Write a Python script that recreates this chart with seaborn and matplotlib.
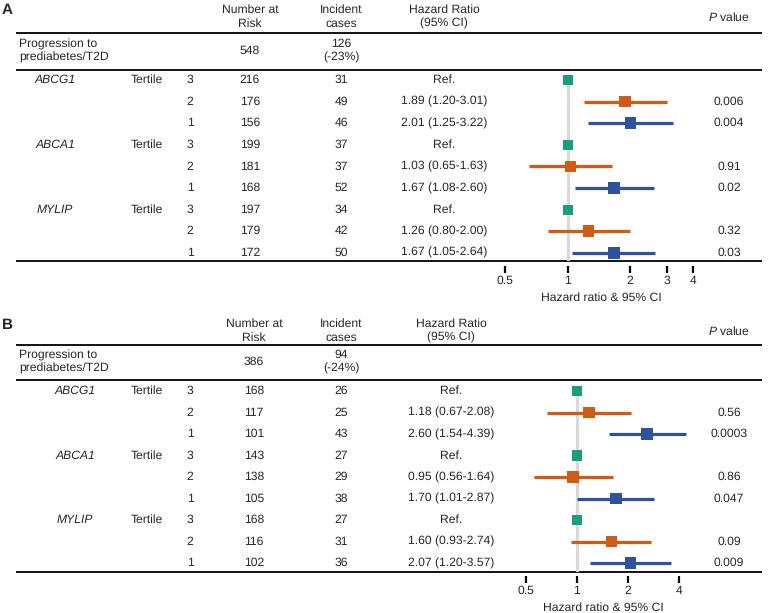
import numpy as np
import pandas as pd
import matplotlib
matplotlib.use("Agg")
import matplotlib.pyplot as plt
import seaborn as sns

# ---------------- data ----------------
genes = ["ABCG1", "ABCA1", "MYLIP"]
tertiles = [3, 2, 1, 3, 2, 1, 3, 2, 1]

a_total_risk = "548"
a_total_cases = "126\n(-23%)"
a_risk = [216, 176, 156, 199, 181, 168, 197, 179, 172]
a_cases = [31, 49, 46, 37, 37, 52, 34, 42, 50]
a_hr = [1.0, 1.89, 2.01, 1.0, 1.03, 1.67, 1.0, 1.26, 1.67]
a_lo = [np.nan, 1.20, 1.25, np.nan, 0.65, 1.08, np.nan, 0.80, 1.05]
a_hi = [np.nan, 3.01, 3.22, np.nan, 1.63, 2.60, np.nan, 2.00, 2.64]
a_p = ["", "0.006", "0.004", "", "0.91", "0.02", "", "0.32", "0.03"]
a_ticks = [0.5, 1, 2, 3, 4]
a_ticklabels = ["0.5", "1", "2", "3", "4"]

b_total_risk = "386"
b_total_cases = "94\n(-24%)"
b_risk = [168, 117, 101, 143, 138, 105, 168, 116, 102]
b_cases = [26, 25, 43, 27, 29, 38, 27, 31, 36]
b_hr = [1.0, 1.18, 2.60, 1.0, 0.95, 1.70, 1.0, 1.60, 2.07]
b_lo = [np.nan, 0.67, 1.54, np.nan, 0.56, 1.01, np.nan, 0.93, 1.20]
b_hi = [np.nan, 2.08, 4.39, np.nan, 1.64, 2.87, np.nan, 2.74, 3.57]
b_p = ["", "0.56", "0.0003", "", "0.86", "0.047", "", "0.09", "0.009"]
b_ticks = [0.5, 1, 2, 4]
b_ticklabels = ["0.5", "1", "2", "4"]

colors = {3: "#17a07b", 2: "#cf5b14", 1: "#2f529c"}

# ---------------- style ----------------
sns.set_theme(style="white")
plt.rcParams["font.family"] = ["Liberation Sans", "DejaVu Sans"]
plt.rcParams["mathtext.fontset"] = "custom"
plt.rcParams["mathtext.it"] = "Liberation Sans:italic"
plt.rcParams["mathtext.rm"] = "Liberation Sans"
plt.rcParams["text.hinting"] = "no_hinting"
FS = 8.7
LS = 1.3
W, H = 768, 613

fig = plt.figure(figsize=(W / 100, H / 100), dpi=100)
bg = fig.add_axes([0, 0, 1, 1])
bg.set_xlim(0, W)
bg.set_ylim(H, 0)
bg.axis("off")


def panel(label, geo, row0, step, risk_total, cases_total, risk, cases, hr, lo, hi, p,
          ticks, ticklabels, x_one, px_per_doubling, gene_x, risk_x, hr_x, label_x):
    lab_y, head_c, line1, prog, line2 = geo
    bottom = row0 + 8 * step + 8.5
    left_px, right_px = 16, 762

    bg.text(2, lab_y, label, fontsize=11, fontweight="bold", va="center", ha="left")
    bg.text(risk_x, head_c, "Number at\nRisk", fontsize=FS, ha="center", va="center", linespacing=LS)
    bg.text(341, head_c, "Incident\ncases", fontsize=FS, ha="center", va="center", linespacing=LS)
    bg.text(hr_x, head_c, "Hazard Ratio\n(95% CI)", fontsize=FS, ha="center", va="center", linespacing=LS)
    bg.text(729, head_c, "$P$ value", fontsize=FS, ha="center", va="center")

    for yy in (line1, line2, bottom):
        bg.plot([left_px, right_px], [yy, yy], color="black", lw=1.3, solid_capstyle="butt")

    bg.text(19, prog, "Progression to\nprediabetes/T2D", fontsize=FS, ha="left", va="center", linespacing=LS)
    bg.text(risk_x, prog, risk_total, fontsize=FS, ha="center", va="center")
    bg.text(341, prog, cases_total, fontsize=FS, ha="center", va="center", linespacing=LS)

    for i in range(9):
        yy = row0 + i * step
        if i % 3 == 0:
            bg.text(gene_x, yy, genes[i // 3], fontsize=FS, style="italic", ha="center", va="center")
            bg.text(147, yy, "Tertile", fontsize=FS, ha="center", va="center")
        bg.text(190, yy, str(tertiles[i]), fontsize=FS, ha="center", va="center")
        bg.text(risk_x, yy, str(risk[i]), fontsize=FS, ha="center", va="center")
        bg.text(341, yy, str(cases[i]), fontsize=FS, ha="center", va="center")
        if tertiles[i] == 3:
            txt = "Ref."
        else:
            txt = f"{hr[i]:.2f} ({lo[i]:.2f}-{hi[i]:.2f})"
        bg.text(hr_x, yy, txt, fontsize=FS, ha="center", va="center")
        bg.text(729, yy, p[i], fontsize=FS, ha="center", va="center")

    bg.text(label_x, bottom + 36, "Hazard ratio & 95% CI", fontsize=FS, ha="center", va="center")

    # forest axes
    ax_l, ax_r = 470, 760
    ax = fig.add_axes([ax_l / W, 1 - bottom / H, (ax_r - ax_l) / W, (bottom - line2) / H])
    ax.patch.set_alpha(0)
    ax.set_xscale("log", base=2)
    ax.set_xlim(2 ** ((ax_l - x_one) / px_per_doubling), 2 ** ((ax_r - x_one) / px_per_doubling))
    ybot = (bottom - row0) / step
    ytop = (line2 - row0) / step
    ax.set_ylim(ybot, ytop)

    df = pd.DataFrame({"row": np.arange(9), "hr": hr, "lo": lo, "hi": hi, "tertile": tertiles})
    ax.vlines(1, 0, ybot, color="#d9d9d9", lw=2.3, zorder=0)
    ci = df.dropna()
    for _, r in ci.iterrows():
        ax.hlines(r["row"], r["lo"], r["hi"], color=colors[int(r["tertile"])], lw=2.3, zorder=1)
    sns.scatterplot(data=df, x="hr", y="row", hue="tertile", palette=colors,
                    size="tertile", sizes={3: 52, 2: 70, 1: 70}, marker="s",
                    linewidth=0, legend=False, ax=ax, zorder=3)
    ax.set_xlabel("")
    ax.set_ylabel("")
    ax.set_yticks([])
    ax.xaxis.set_major_locator(matplotlib.ticker.FixedLocator(ticks))
    ax.xaxis.set_major_formatter(matplotlib.ticker.FixedFormatter(ticklabels))
    ax.xaxis.set_minor_locator(matplotlib.ticker.NullLocator())
    for s in ["top", "right", "left"]:
        ax.spines[s].set_visible(False)
    ax.spines["bottom"].set_position(("outward", 3.5))
    ax.spines["bottom"].set_visible(False)
    ax.tick_params(axis="x", direction="out", length=5, width=1.6, color="black",
                   pad=1.5, bottom=True, labelsize=FS)
    return ax


panel("A", (10, 17, 33, 51, 70), 80, 21.6, a_total_risk, a_total_cases, a_risk, a_cases,
      a_hr, a_lo, a_hi, a_p, a_ticks, a_ticklabels, 567.7, 62.5, 55, 250, 444, 601)
panel("B", (325, 331, 345, 362, 380), 391, 21.5, b_total_risk, b_total_cases, b_risk, b_cases,
      b_hr, b_lo, b_hi, b_p, b_ticks, b_ticklabels, 576.7, 51.1, 75, 254, 451, 603)

fig.savefig("out.png", dpi=100)
